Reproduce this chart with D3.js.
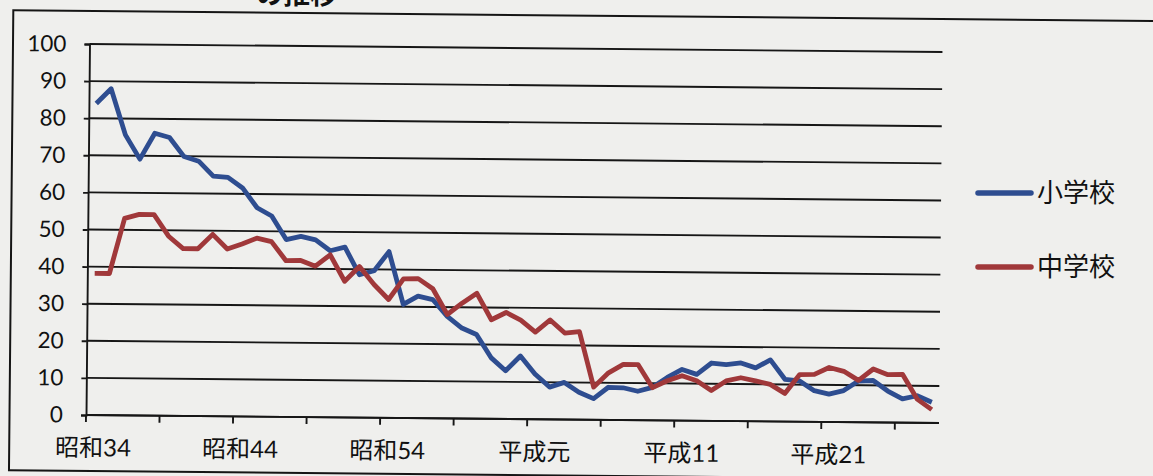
<!DOCTYPE html>
<html>
<head>
<meta charset="utf-8">
<script src="https://cdn.jsdelivr.net/npm/d3@7"></script>
<style>
  html, body { margin: 0; padding: 0; background: #efefed; }
  svg { display: block; }
  text { font-family: Lato, "Noto Sans CJK JP", sans-serif; fill: #111; }
</style>
</head>
<body>
<svg id="chart" width="1153" height="476"></svg>
<script>
// ---- data ----
const categories = (function () {
  const c = [];
  for (let n = 34; n <= 63; n++) c.push("昭和" + n);
  c.push("平成元");
  for (let n = 2; n <= 28; n++) c.push("平成" + n);
  return c;
})();
const labelCategories = ["昭和34", "昭和44", "昭和54", "平成元", "平成11", "平成21"];
const yTicks = [0, 10, 20, 30, 40, 50, 60, 70, 80, 90, 100];
const seriesNames = ["小学校", "中学校"];
const elementary = [84.0, 88.0, 75.6, 69.1, 76.1, 75.0, 69.9, 68.7, 64.7, 64.4,
  61.6, 56.3, 54.1, 47.8, 48.7, 47.8, 44.9, 45.9, 38.5, 39.6,
  44.8, 30.6, 32.9, 32.0, 27.5, 24.4, 22.7, 16.5, 13.0, 17.0,
  12.2, 8.7, 10.0, 7.4, 5.7, 8.8, 8.7, 7.8, 8.9, 11.6,
  13.8, 12.5, 15.6, 15.2, 15.7, 14.4, 16.6, 11.4, 11.0, 8.4,
  7.5, 8.5, 11.1, 11.3, 8.5, 6.4, 7.3, 5.6];
const juniorHigh = [38.2, 38.2, 53.1, 54.2, 54.2, 48.4, 45.1, 45.1, 49.0, 45.1,
  46.5, 48.1, 47.2, 42.1, 42.2, 40.7, 43.8, 36.7, 40.7, 35.9,
  31.9, 37.5, 37.6, 34.9, 28.0, 31.1, 33.8, 26.7, 28.7, 26.7,
  23.5, 26.8, 23.3, 23.7, 8.8, 12.7, 15.0, 15.0, 8.8, 10.7,
  12.1, 10.8, 8.2, 10.8, 11.7, 10.9, 10.0, 7.6, 12.7, 12.8,
  14.7, 13.7, 11.3, 14.4, 12.9, 13.0, 6.4, 3.6];
const colors = ["#2e4d90", "#a0383a"];

// ---- layout ----
const svg = d3.select("#chart");
const plotLeft = 86, plotRight = 939, plotTop = 44, plotBottom = 415;

const x = d3.scaleBand().domain(categories).range([plotLeft, plotRight]).padding(0);
const y = d3.scaleLinear().domain([0, 100]).range([plotBottom, plotTop]);

// title fragment (cut at the top of the photo)
svg.append("text")
  .attr("x", 337).attr("y", 4)
  .attr("text-anchor", "end")
  .style("font-size", "27px").style("font-weight", "bold")
  .style("font-family", "'Noto Sans CJK JP', sans-serif")
  .text("の推移");

const g = svg.append("g").attr("transform", `rotate(0.54, ${plotLeft}, ${plotBottom})`);

// frame
g.append("rect")
  .attr("x", 9.5).attr("y", 11).attr("width", 1300).attr("height", 460)
  .attr("fill", "none").attr("stroke", "#151515").attr("stroke-width", 2);

// gridlines
g.append("g").selectAll("line").data(yTicks).join("line")
  .attr("x1", plotLeft).attr("x2", plotRight)
  .attr("y1", d => y(d)).attr("y2", d => y(d))
  .attr("stroke", "#161616").attr("stroke-width", 1.9);

// y axis
const yAxis = d3.axisLeft(y).tickValues(yTicks).tickSize(5).tickPadding(18);
const yg = g.append("g").attr("transform", `translate(${plotLeft},0)`).call(yAxis);
yg.select(".domain").attr("stroke", "#161616").attr("stroke-width", 1.9);
yg.selectAll(".tick line").attr("stroke", "#161616").attr("stroke-width", 1.9);
yg.selectAll(".tick text").style("font-size", "22.5px").attr("fill", "#111")
  .style("font-family", "Lato, 'Noto Sans CJK JP', sans-serif");

// x axis: baseline + boundary ticks every 5 categories
g.append("line").attr("x1", plotLeft).attr("x2", plotRight)
  .attr("y1", plotBottom).attr("y2", plotBottom)
  .attr("stroke", "#161616").attr("stroke-width", 1.9);
const tickCats = categories.filter((d, i) => i % 5 === 0);
g.append("g").selectAll("line").data(tickCats).join("line")
  .attr("x1", d => x(d)).attr("x2", d => x(d))
  .attr("y1", plotBottom).attr("y2", plotBottom + 7)
  .attr("stroke", "#161616").attr("stroke-width", 1.9);

const xAxis = d3.axisBottom(x).tickValues(labelCategories).tickSize(0).tickPadding(24);
const xg = g.append("g").attr("transform", `translate(0,${plotBottom})`).call(xAxis);
xg.select(".domain").remove();
xg.selectAll(".tick text").style("font-size", "24px").attr("fill", "#111")
  .style("font-family", "Lato, 'Noto Sans CJK JP', sans-serif");

// lines
const line = d3.line()
  .x((d, i) => x(categories[i]) + x.bandwidth() / 2)
  .y(d => y(d));
[elementary, juniorHigh].forEach((s, k) => {
  g.append("path").datum(s)
    .attr("fill", "none").attr("stroke", colors[k])
    .attr("stroke-width", 4.8).attr("stroke-linejoin", "round")
    .attr("d", line);
});

// legend
const legendY = [193, 267];
seriesNames.forEach((name, k) => {
  svg.append("line")
    .attr("x1", 978).attr("x2", 1031)
    .attr("y1", legendY[k]).attr("y2", legendY[k])
    .attr("stroke", colors[k]).attr("stroke-width", 5.5).attr("stroke-linecap", "round");
  svg.append("text")
    .attr("x", 1037).attr("y", legendY[k])
    .attr("dy", "0.36em")
    .style("font-size", "26px")
    .style("font-family", "'Noto Sans CJK JP', sans-serif")
    .text(name);
});
</script>
</body>
</html>
